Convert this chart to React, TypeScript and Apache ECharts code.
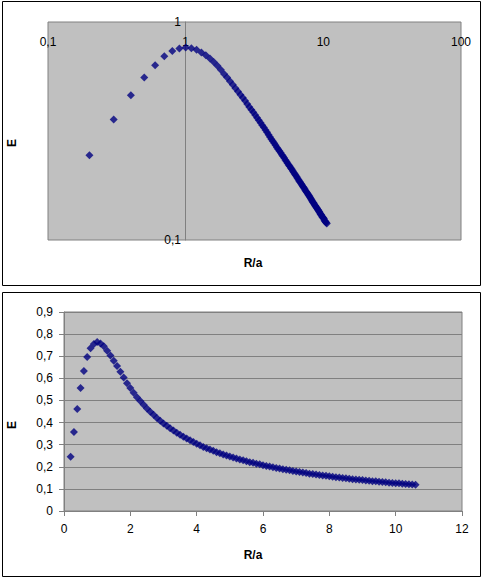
import React, { useEffect, useRef } from "react";
import * as echarts from "echarts";

const ratioValues: number[] = [
  0.2, 0.3, 0.4, 0.5, 0.6, 0.7, 0.8, 0.9, 1.0, 1.1,
  1.2, 1.3, 1.4, 1.5, 1.6, 1.7, 1.8, 1.9, 2.0, 2.1,
  2.2, 2.3, 2.4, 2.5, 2.6, 2.7, 2.8, 2.9, 3.0, 3.1,
  3.2, 3.3, 3.4, 3.5, 3.6, 3.7, 3.8, 3.9, 4.0, 4.1,
  4.2, 4.3, 4.4, 4.5, 4.6, 4.7, 4.8, 4.9, 5.0, 5.1,
  5.2, 5.3, 5.4, 5.5, 5.6, 5.7, 5.8, 5.9, 6.0, 6.1,
  6.2, 6.3, 6.4, 6.5, 6.6, 6.7, 6.8, 6.9, 7.0, 7.1,
  7.2, 7.3, 7.4, 7.5, 7.6, 7.7, 7.8, 7.9, 8.0, 8.1,
  8.2, 8.3, 8.4, 8.5, 8.6, 8.7, 8.8, 8.9, 9.0, 9.1,
  9.2, 9.3, 9.4, 9.5, 9.6, 9.7, 9.8, 9.9, 10.0, 10.1,
  10.2, 10.3, 10.4, 10.5, 10.6,
];

const eValues: number[] = [
  0.245, 0.357, 0.461, 0.556, 0.633, 0.697, 0.736, 0.755, 0.764, 0.758,
  0.745, 0.725, 0.703, 0.680, 0.656, 0.630, 0.604, 0.578, 0.556, 0.535,
  0.515, 0.497, 0.480, 0.464, 0.449, 0.435, 0.421, 0.408, 0.396, 0.385,
  0.374, 0.364, 0.354, 0.345, 0.336, 0.328, 0.320, 0.312, 0.304, 0.297,
  0.290, 0.284, 0.278, 0.272, 0.266, 0.261, 0.256, 0.251, 0.246, 0.242,
  0.238, 0.233, 0.229, 0.225, 0.221, 0.218, 0.214, 0.211, 0.207, 0.204,
  0.201, 0.198, 0.195, 0.192, 0.189, 0.186, 0.184, 0.181, 0.179, 0.176,
  0.174, 0.172, 0.169, 0.167, 0.165, 0.163, 0.161, 0.159, 0.157, 0.155,
  0.153, 0.151, 0.149, 0.148, 0.146, 0.144, 0.143, 0.141, 0.140, 0.138,
  0.137, 0.135, 0.134, 0.132, 0.131, 0.130, 0.128, 0.127, 0.126, 0.125,
  0.123, 0.122, 0.121, 0.120, 0.119,
];

const xAxisTitle = "R/a";
const yAxisTitle = "E";

const FONT = "'Liberation Sans', Arial, sans-serif";
const MARK = "#000080";
const GRAY = "#808080";

const fmt = (v: number) => {
  if (v === 0) return "0";
  const n = Number(v.toPrecision(3));
  return String(n).replace(".", ",");
};

export default function App() {
  const ref = useRef<HTMLDivElement>(null);
  useEffect(() => {
    document.body.style.margin = "0";
    const chart = echarts.init(ref.current!, null, { renderer: "svg" });
    const pts = ratioValues.map((x, i) => [x, eValues[i]]);
    chart.setOption({
      animation: false,
      backgroundColor: "#ffffff",
      textStyle: { fontFamily: FONT },
      grid: [
        {
          left: 48, top: 22, width: 413, height: 218,
          show: true, backgroundColor: "#c0c0c0", borderColor: GRAY, borderWidth: 1,
        },
        {
          left: 64, top: 312, width: 398, height: 199,
          show: true, backgroundColor: "#c0c0c0", borderColor: GRAY, borderWidth: 1,
        },
      ],
      xAxis: [
        {
          type: "log", gridIndex: 0, logBase: 10, min: 0.1, max: 100,
          position: "top",
          axisLine: { show: false },
          axisTick: { show: false },
          splitLine: { show: false },
          minorTick: { show: false },
          axisLabel: {
            inside: true, margin: 14, color: "#000", fontSize: 12, fontFamily: FONT,
            formatter: (v: number) => fmt(v),
          },
        },
        {
          type: "value", gridIndex: 1, min: 0, max: 12, interval: 2,
          axisLine: { show: true, lineStyle: { color: GRAY, width: 1 } },
          axisTick: { show: true, inside: false, length: 5, lineStyle: { color: GRAY } },
          splitLine: { show: false },
          axisLabel: { margin: 12, color: "#000", fontSize: 12, fontFamily: FONT, formatter: (v: number) => fmt(v) },
        },
      ],
      yAxis: [
        {
          type: "log", gridIndex: 0, logBase: 10, min: 0.1, max: 1,
          position: "left", offset: -137,
          axisLine: { show: true, lineStyle: { color: GRAY, width: 1 } },
          axisTick: { show: false },
          splitLine: { show: false },
          minorTick: { show: false },
          axisLabel: { margin: 4, color: "#000", fontSize: 12, fontFamily: FONT, formatter: (v: number) => fmt(v) },
        },
        {
          type: "value", gridIndex: 1, min: 0, max: 0.9, interval: 0.1,
          axisLine: { show: true, lineStyle: { color: GRAY, width: 1 } },
          axisTick: { show: true, inside: false, length: 5, lineStyle: { color: GRAY } },
          splitLine: { show: true, lineStyle: { color: GRAY, width: 1 } },
          axisLabel: { margin: 11, color: "#000", fontSize: 12, fontFamily: FONT, formatter: (v: number) => fmt(v) },
        },
      ],
      series: [
        {
          type: "scatter", xAxisIndex: 0, yAxisIndex: 0, data: pts,
          symbol: "diamond", symbolSize: 8, itemStyle: { color: MARK },
        },
        {
          type: "scatter", xAxisIndex: 1, yAxisIndex: 1, data: pts,
          symbol: "diamond", symbolSize: 8, itemStyle: { color: MARK },
        },
      ],
      graphic: [
        { type: "rect", shape: { x: 2.5, y: 1.5, width: 478, height: 284 }, style: { fill: "none", stroke: "#000", lineWidth: 1 }, silent: true },
        { type: "rect", shape: { x: 2.5, y: 292.5, width: 478, height: 284 }, style: { fill: "none", stroke: "#000", lineWidth: 1 }, silent: true },
        { type: "text", x: 12, y: 143, rotation: Math.PI / 2, style: { text: yAxisTitle, font: `bold 12px ${FONT}`, fill: "#000", align: "center", verticalAlign: "middle" } },
        { type: "text", x: 253, y: 263, style: { text: xAxisTitle, font: `bold 12px ${FONT}`, fill: "#000", align: "center", verticalAlign: "middle" } },
        { type: "text", x: 12, y: 425, rotation: Math.PI / 2, style: { text: yAxisTitle, font: `bold 12px ${FONT}`, fill: "#000", align: "center", verticalAlign: "middle" } },
        { type: "text", x: 253, y: 555, style: { text: xAxisTitle, font: `bold 12px ${FONT}`, fill: "#000", align: "center", verticalAlign: "middle" } },
      ],
    });
    return () => chart.dispose();
  }, []);
  return <div ref={ref} style={{ position: "absolute", left: 0, top: 0, width: 483, height: 578 }} />;
}
